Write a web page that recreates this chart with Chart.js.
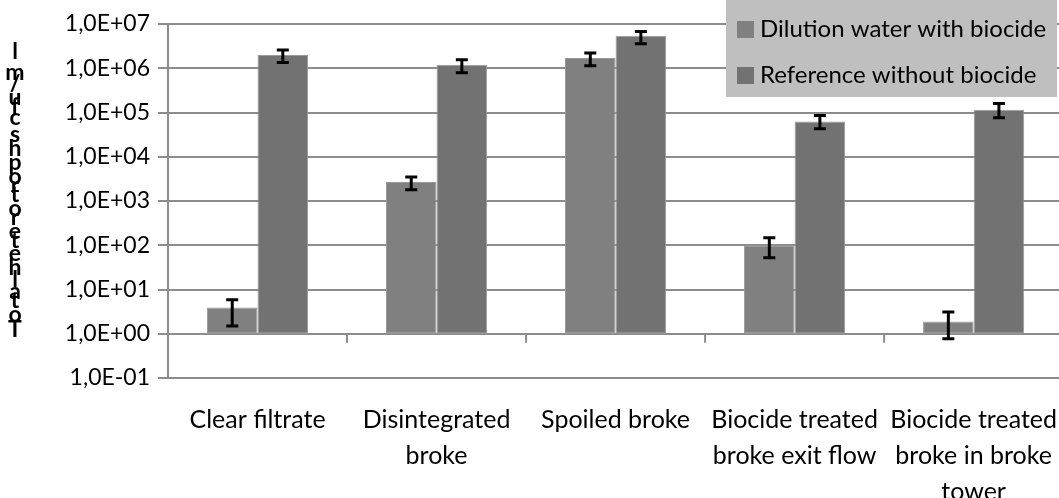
<!DOCTYPE html>
<html>
<head>
<meta charset="utf-8">
<script src="https://cdn.jsdelivr.net/npm/chart.js@4.4.1/dist/chart.umd.min.js"></script>
<style>
  html, body { margin: 0; padding: 0; background: #fff; overflow: hidden; }
  body { width: 1059px; height: 498px; }
  #wrap { width: 1073px; height: 498px; }
</style>
</head>
<body>
<div id="wrap"><canvas id="grafico"></canvas></div>
<script>
const categorias = [
    "Clear filtrate",
    ["Disintegrated", "broke"],
    "Spoiled broke",
    ["Biocide treated", "broke exit flow"],
    ["Biocide treated", "broke in broke", "tower"]
];
const nomesSeries = ["Dilution water with biocide", "Reference without biocide"];

const dilucao = [3.9, 2700, 1.7e6, 100, 1.9];
const dilucaoMin = [1.5, 1800, 1.14e6, 52, 0.77];
const dilucaoMax = [5.9, 3500, 2.2e6, 148, 3.1];

const referencia = [2.0e6, 1.2e6, 5.4e6, 6.3e4, 1.15e5];
const referenciaMin = [1.35e6, 7.9e5, 3.6e6, 4.3e4, 7.6e4];
const referenciaMax = [2.6e6, 1.55e6, 6.8e6, 8.5e4, 1.6e5];

const ticksY = [0.1, 1, 10, 100, 1e3, 1e4, 1e5, 1e6, 1e7];
const tituloY = "Total heterotrophs cfu/ml";

const cores = ["#808080", "#727272"];
const corGrade = "#8c8c8c";
const fonte = "Lato, 'Noto Sans', sans-serif";

function formatarExp(v) {
    const e = Math.round(Math.log10(v));
    return "1,0E" + (e < 0 ? "-" : "+") + String(Math.abs(e)).padStart(2, "0");
}

// barras de erro desenhadas por cima das barras
const pluginErro = {
    id: "barrasErro",
    afterDatasetsDraw(chart) {
        const ctx = chart.ctx;
        const y = chart.scales.y;
        const limites = [[dilucaoMin, dilucaoMax], [referenciaMin, referenciaMax]];
        ctx.save();
        ctx.strokeStyle = "#000";
        ctx.lineWidth = 3;
        limites.forEach((lim, i) => {
            chart.getDatasetMeta(i).data.forEach((barra, j) => {
                const x = barra.x;
                const y1 = y.getPixelForValue(lim[0][j]);
                const y2 = y.getPixelForValue(lim[1][j]);
                ctx.beginPath();
                ctx.moveTo(x, y1); ctx.lineTo(x, y2);
                ctx.moveTo(x - 6, y1); ctx.lineTo(x + 6, y1);
                ctx.moveTo(x - 6, y2); ctx.lineTo(x + 6, y2);
                ctx.stroke();
            });
        });
        ctx.restore();
    }
};

// eixo das categorias cruza em 1,0E+00 (marcas entre categorias)
const pluginEixoX = {
    id: "eixoX",
    beforeDatasetsDraw(chart) {
        const ctx = chart.ctx;
        const x = chart.scales.x;
        const y0 = chart.scales.y.getPixelForValue(1);
        ctx.save();
        ctx.strokeStyle = corGrade;
        ctx.lineWidth = 2;
        for (let i = 1; i < categorias.length; i++) {
            const px = (x.getPixelForValue(i - 1) + x.getPixelForValue(i)) / 2;
            ctx.beginPath();
            ctx.moveTo(px, y0);
            ctx.lineTo(px, y0 + 9);
            ctx.stroke();
        }
        ctx.restore();
    }
};

// legenda sobre o gráfico e título do eixo com letras empilhadas
const pluginExtras = {
    id: "extras",
    afterDraw(chart) {
        const ctx = chart.ctx;
        ctx.save();
        ctx.fillStyle = "#bfbfbf";
        ctx.fillRect(726, 0, 331, 97);
        ctx.font = "24px " + fonte;
        ctx.textBaseline = "middle";
        nomesSeries.forEach((nome, i) => {
            const yc = 29 + i * 46;
            ctx.fillStyle = cores[i];
            ctx.fillRect(737, yc - 8, 17, 17);
            ctx.fillStyle = "#000";
            ctx.fillText(nome, 760, yc);
        });

        ctx.font = "bold 23px " + fonte;
        ctx.textAlign = "center";
        ctx.textBaseline = "alphabetic";
        const letras = tituloY.split("");
        const larguras = letras.map(c => ctx.measureText(c).width);
        const total = larguras.reduce((a, b) => a + b, 0);
        const escala = 284 / total;
        let pos = 337;
        letras.forEach((c, i) => {
            ctx.fillText(c, 15, pos);
            pos -= larguras[i] * escala;
        });
        ctx.restore();
    }
};

const ctx = document.getElementById("grafico").getContext("2d");

new Chart(ctx, {
    type: "bar",
    data: {
        labels: categorias,
        datasets: [
            {
                label: nomesSeries[0],
                data: dilucao.map(v => [1, v]),
                backgroundColor: cores[0],
                borderColor: "#9a9a9a",
                borderWidth: 1,
                borderSkipped: false
            },
            {
                label: nomesSeries[1],
                data: referencia.map(v => [1, v]),
                backgroundColor: cores[1],
                borderColor: "#9a9a9a",
                borderWidth: 1,
                borderSkipped: false
            }
        ]
    },
    options: {
        responsive: true,
        maintainAspectRatio: false,
        animation: false,
        layout: { padding: { top: 24, right: 0, left: 0, bottom: 0 } },
        plugins: {
            legend: { display: false },
            tooltip: { enabled: false }
        },
        datasets: {
            bar: { categoryPercentage: 0.565, barPercentage: 1 }
        },
        scales: {
            x: {
                grid: { display: false },
                border: { display: false },
                ticks: {
                    color: "#000",
                    maxRotation: 0,
                    autoSkip: false,
                    padding: 16,
                    font: { family: fonte, size: 25, lineHeight: 1.44 }
                },
                afterFit(axis) { axis.height = 120; }
            },
            y: {
                type: "logarithmic",
                min: 0.1,
                max: 1e7,
                afterBuildTicks(axis) {
                    axis.ticks = ticksY.map(v => ({ value: v }));
                },
                grid: { color: corGrade, lineWidth: 2, tickLength: 10 },
                border: { display: true, color: corGrade, width: 2 },
                ticks: {
                    color: "#000",
                    padding: 8,
                    font: { family: fonte, size: 23 },
                    callback: v => formatarExp(v)
                },
                afterFit(axis) { axis.width = 168; }
            }
        }
    },
    plugins: [pluginErro, pluginEixoX, pluginExtras]
});
</script>
</body>
</html>
